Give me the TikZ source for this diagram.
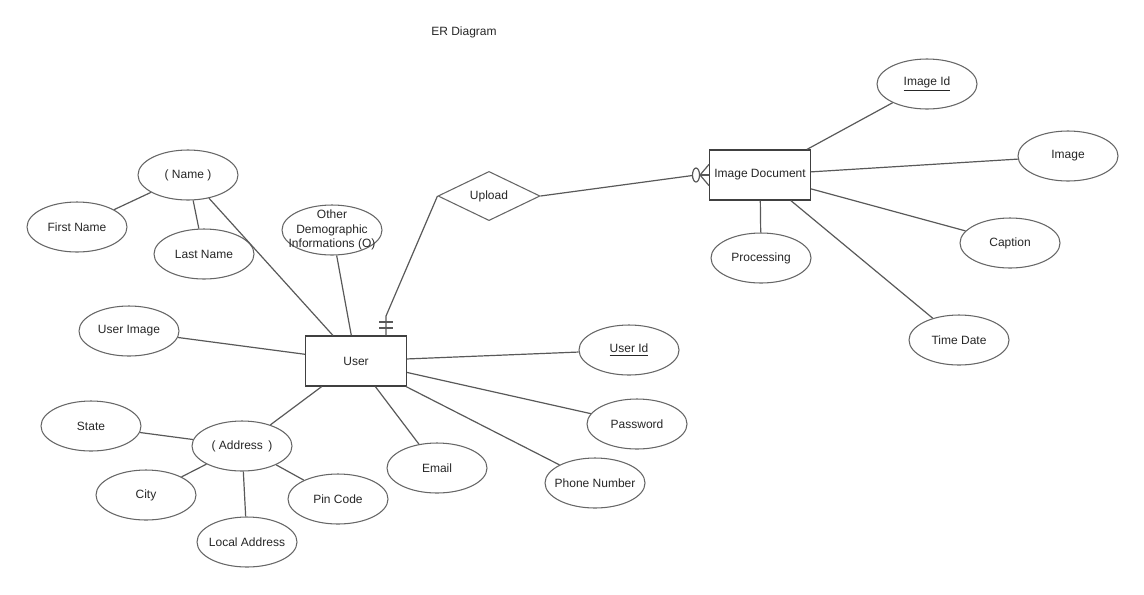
\documentclass[tikz,border=0pt]{standalone}
\usepackage{fontspec}
\setmainfont{Liberation Sans}
\usetikzlibrary{shapes.geometric}
\begin{document}
\begin{tikzpicture}[x=0.75pt,y=-0.75pt,font=\fontsize{9}{11}\selectfont]
		\tikzstyle{attribut}=[ellipse,draw=black!60,line width=0.8pt,minimum width=75pt,minimum height=37.5pt,inner sep=0pt,text=black!85]
		\tikzstyle{attribut_long}=[attribut,inner xsep=-8pt]
		\tikzstyle{entite}=[rectangle,draw=black!75,line width=0.9pt,minimum width=75.5pt,minimum height=37.5pt,inner sep=0pt,text=black!85]
		\tikzstyle{association}=[diamond,draw=black!60,line width=0.8pt,minimum width=76.5pt,minimum height=36pt,inner sep=0pt,text=black!85]
		\tikzstyle{lien}=[draw=black!65,line width=0.9pt]
		\useasboundingbox (0,0) rectangle (1144,594);
		\node[text=black!85] (titre) at (464,32) {ER Diagram};
		% entites
		\node[entite] (user) at (356,361) {User};
		\node[entite] (imgdoc) at (760,175) {Image Document};
		\node[association] (upload) at (489,196) {Upload};
		% attributs de User
		\node[attribut] (name) at (188,175) {( Name )};
		\node[attribut] (first) at (77,227) {First Name};
		\node[attribut] (last) at (204,254) {Last Name};
		\node[attribut,label={[align=center,text=black!85,inner sep=0pt]center:Other\\Demographic\\Informations (O)}] (other) at (332,230) {};
		\node[attribut] (userimg) at (129,331) {User Image};
		\node[attribut] (userid) at (629,350) {\underline{User Id}};
		\node[attribut] (password) at (637,424) {Password};
		\node[attribut_long] (phone) at (595,483) {Phone Number};
		\node[attribut] (email) at (437,468) {Email};
		\node[attribut] (address) at (242,446) {( Address \,)};
		\node[attribut] (state) at (91,426) {State};
		\node[attribut] (city) at (146,495) {City};
		\node[attribut] (pin) at (338,499) {Pin Code};
		\node[attribut_long] (local) at (247,542) {Local Address};
		% attributs de Image Document
		\node[attribut] (imgid) at (927,84) {\underline{Image Id}};
		\node[attribut] (image) at (1068,156) {Image};
		\node[attribut] (caption) at (1010,243) {Caption};
		\node[attribut] (timedate) at (959,340) {Time Date};
		\node[attribut] (processing) at (761,258) {Processing};
		% liens
		\foreach \a/\b in {name/first,name/last,name/user,other/user,userimg/user,user/userid,user/password,user/phone,user/email,user/address,address/state,address/city,address/local,address/pin,imgdoc/imgid,imgdoc/image,imgdoc/caption,imgdoc/timedate,imgdoc/processing}
			\draw[lien] (\a) -- (\b);
		% upload : un seul cote User
		\coordinate (coude) at (386,316);
		\draw[lien] (upload.west) -- (coude) -- (coude |- user.north);
		\draw[lien] (379,322) -- (393,322);
		\draw[lien] (379,328) -- (393,328);
		% upload : zero ou plusieurs cote Image Document
		\coordinate (rond) at (696,175);
		\draw[lien] (upload.east) -- (692.5,175.5);
		\draw[lien] (rond) ellipse (3.5 and 7);
		\draw[lien] (700,175) -- (imgdoc.west);
		\draw[lien] (700,175) -- ([yshift=-8]imgdoc.west);
		\draw[lien] (700,175) -- ([yshift=8]imgdoc.west);
\end{tikzpicture}
\end{document}
